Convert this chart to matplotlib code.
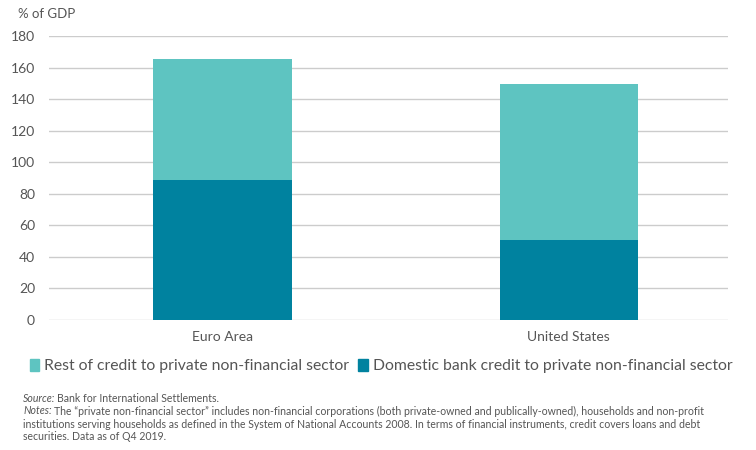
import matplotlib
matplotlib.use("Agg")
import matplotlib.pyplot as plt
from matplotlib.patches import Patch

plt.rcParams['font.family'] = ['Lato', 'DejaVu Sans']

regions = ["Euro Area", "United States"]
bank_credit = [88.7, 50.7]
rest_credit = [76.7, 98.9]
y_ticks = [0, 20, 40, 60, 80, 100, 120, 140, 160, 180]

dark = '#00829f'
light = '#5ec4c1'
grey = '#555555'

fig = plt.figure(figsize=(7.56, 4.5), dpi=100)
ax = fig.add_axes([49 / 756, 1 - 320 / 450, 679 / 756, 284 / 450])

x = range(len(regions))
ax.bar(x, bank_credit, width=0.4, color=dark, zorder=2)
ax.bar(x, rest_credit, width=0.4, bottom=bank_credit, color=light, zorder=2)

ax.set_xlim(-0.5017, 1.46)
ax.set_ylim(0, 180)
ax.set_yticks(y_ticks)
ax.set_xticks(list(x))
ax.set_xticklabels(regions)
ax.grid(axis='y', color='#cccccc', linewidth=1, zorder=0)
for s in ax.spines.values():
    s.set_visible(False)
ax.tick_params(length=0, colors=grey, labelsize=10)
ax.tick_params(axis='y', pad=10)
ax.tick_params(axis='x', pad=8)

fig.text(18 / 756, 1 - 14 / 450, "% of GDP", fontsize=9.5, color=grey, va='center')

handles = [Patch(color=light), Patch(color=dark)]
labels = ["Rest of credit to private non-financial sector",
          "Domestic bank credit to private non-financial sector"]
fig.legend(handles, labels, loc='center', bbox_to_anchor=(381 / 756, 1 - 366 / 450),
           ncol=2, frameon=False, fontsize=11.3, handlelength=0.6, handleheight=0.8,
           handletextpad=0.3, columnspacing=0.6, labelcolor=grey)

fs = 7.6
fig.text(23 / 756, 1 - 398 / 450, "Source:", fontsize=fs, style='italic', color=grey, va='center')
fig.text(57 / 756, 1 - 398 / 450, "Bank for International Settlements.", fontsize=fs, color=grey, va='center')
fig.text(23 / 756, 1 - 411 / 450, "Notes:", fontsize=fs, style='italic', color=grey, va='center')
fig.text(54 / 756, 1 - 411 / 450,
         "The \u201cprivate non-financial sector\u201d includes non-financial corporations (both private-owned and publically-owned), households and non-profit",
         fontsize=fs, color=grey, va='center')
fig.text(23 / 756, 1 - 424 / 450,
         "institutions serving households as defined in the System of National Accounts 2008. In terms of financial instruments, credit covers loans and debt",
         fontsize=fs, color=grey, va='center')
fig.text(23 / 756, 1 - 437 / 450, "securities. Data as of Q4 2019.",
         fontsize=fs, color=grey, va='center')

fig.savefig('out.png', dpi=100)
